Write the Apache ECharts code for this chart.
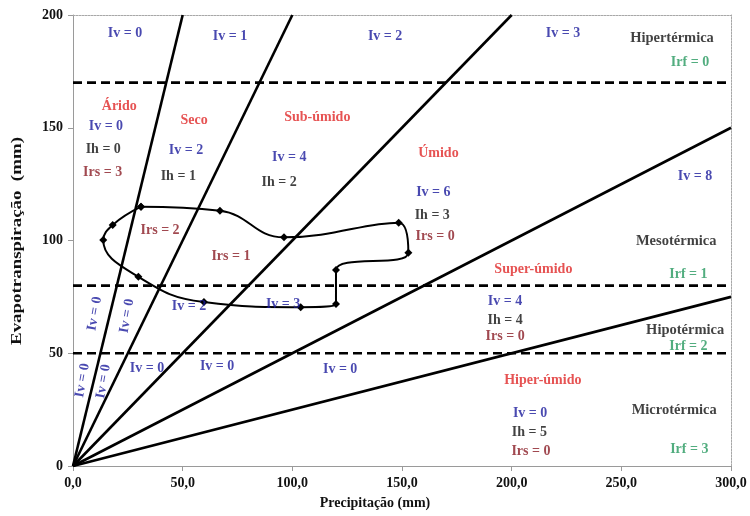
<!DOCTYPE html>
<html>
<head>
<meta charset="utf-8">
<script src="https://cdn.jsdelivr.net/npm/echarts@6/dist/echarts.min.js"></script>
<style>
  html, body { margin: 0; padding: 0; background: #fff; }
  #chart { width: 750px; height: 516px; }
</style>
</head>
<body>
<div id="chart"></div>
<script>
// Monthly water-balance path: precipitation vs evapotranspiration (mm)
const precipitation = [31.0, 67.0, 96.2, 148.5, 152.9, 119.9, 119.9, 103.8, 59.7, 29.8, 13.8, 18.1];
const evapotranspiration = [115.0, 113.2, 101.4, 107.9, 94.6, 86.9, 71.8, 70.4, 72.7, 83.9, 100.2, 106.9];

// Humidity class boundaries, as evapotranspiration / precipitation ratios
const humidityRatios = [4, 2, 1, 0.5, 0.25];

// Thermal class boundaries (mm of evapotranspiration)
const thermalLimits = [170, 80, 50];

// Axis ranges and ticks
const xTickValues = [0, 50, 100, 150, 200, 250, 300];
const yTickValues = [0, 50, 100, 150, 200];

// Class annotations: text, kind, anchor (mm, mm), optional rotation
const annotations = [
  ['Iv = 0', 'iv', 23.7, 192.0], ['Iv = 1', 'iv', 71.6, 190.7], ['Iv = 2', 'iv', 142.3, 190.7],
  ['Iv = 3', 'iv', 223.4, 192.0], ['Hipertérmica', 'th', 273.1, 189.8], ['Irf = 0', 'irf', 281.3, 179.2],
  ['Árido', 'cl', 21.1, 159.6], ['Iv = 0', 'iv', 15.0, 150.4], ['Ih = 0', 'ih', 13.8, 140.2], ['Irs = 3', 'irs', 13.5, 130.1],
  ['Seco', 'cl', 55.2, 153.2], ['Iv = 2', 'iv', 51.5, 140.1], ['Ih = 1', 'ih', 48.0, 128.3],
  ['Sub-úmido', 'cl', 111.4, 154.6], ['Iv = 4', 'iv', 98.6, 136.9], ['Ih = 2', 'ih', 94.0, 125.6],
  ['Úmido', 'cl', 166.6, 138.7], ['Iv = 6', 'iv', 164.3, 121.2], ['Ih = 3', 'ih', 163.8, 111.3], ['Irs = 0', 'irs', 165.1, 101.7],
  ['Iv = 8', 'iv', 283.6, 128.3], ['Mesotérmica', 'th', 275.0, 99.8], ['Irf = 1', 'irf', 280.6, 85.0],
  ['Super-úmido', 'cl', 209.9, 87.2], ['Irs = 2', 'irs', 39.7, 104.7], ['Irs = 1', 'irs', 72.0, 93.1],
  ['Iv = 2', 'iv', 52.9, 71.0], ['Iv = 3', 'iv', 95.8, 71.8],
  ['Iv = 4', 'iv', 197.0, 72.8], ['Ih = 4', 'ih', 197.0, 64.7], ['Irs = 0', 'irs', 197.0, 57.3],
  ['Hipotérmica', 'th', 279.1, 60.0], ['Irf = 2', 'irf', 280.6, 53.2],
  ['Iv = 0', 'iv', 33.7, 43.5], ['Iv = 0', 'iv', 65.7, 44.3], ['Iv = 0', 'iv', 121.8, 43.0],
  ['Hiper-úmido', 'cl', 214.2, 38.1], ['Iv = 0', 'iv', 208.4, 23.4], ['Ih = 5', 'ih', 208.1, 14.9], ['Irs = 0', 'irs', 208.8, 6.7],
  ['Microtérmica', 'th', 274.1, 24.8], ['Irf = 3', 'irf', 281.0, 7.4],
  ['Iv = 0', 'iv', 9.9, 67.5, 80], ['Iv = 0', 'iv', 24.6, 66.5, 80],
  ['Iv = 0', 'iv', 4.3, 38.0, 80], ['Iv = 0', 'iv', 13.9, 37.5, 80]
];

const X_MAX = 300, Y_MAX = 200;
const FONT = "'Liberation Serif', 'Times New Roman', serif";
const kindColors = {
  iv: '#1c1c9c',
  ih: '#111111',
  irs: '#8a1c24',
  cl: '#e02828',
  th: '#111111',
  irf: '#27995f'
};

const chart = echarts.init(document.getElementById('chart'), null, { renderer: 'canvas' });

// Ratio boundaries drawn from the origin until they leave the plot
const ratioSeries = humidityRatios.map(r => {
  const xEnd = Math.min(X_MAX, Y_MAX / r);
  return {
    type: 'line', silent: true, symbol: 'none', z: 3,
    lineStyle: { color: '#000', width: 2.6 },
    data: [[0, 0], [xEnd, r * xEnd]]
  };
});

const thermalSeries = thermalLimits.map(t => ({
  type: 'line', silent: true, symbol: 'none', z: 3,
  lineStyle: { color: '#000', width: 2.6, type: [9, 5] },
  data: [[0, t], [X_MAX, t]]
}));

// Closed path through the twelve months
const pathData = precipitation.map((p, i) => [p, evapotranspiration[i]]);
pathData.push(pathData[0]);

const pathSeries = {
  type: 'line', silent: true, smooth: 0.45, z: 5,
  symbol: 'diamond', symbolSize: 8, showSymbol: true,
  itemStyle: { color: '#000' },
  lineStyle: { color: '#000', width: 2 },
  data: pathData
};

const labelSeries = {
  type: 'scatter', silent: true, z: 6,
  symbol: 'circle', symbolSize: 1,
  itemStyle: { color: 'rgba(0,0,0,0)' },
  label: {
    show: true, position: 'inside',
    fontFamily: FONT, fontWeight: 'bold', fontSize: 14,
    formatter: p => p.data.name
  },
  data: annotations.map(a => ({
    name: a[0],
    value: [a[2], a[3]],
    label: {
      color: kindColors[a[1]],
      fontSize: a[1] === 'th' ? 14.5 : 14,
      rotate: a[4] || 0
    }
  }))
};

const option = {
  animation: false,
  backgroundColor: '#fff',
  grid: { left: 73, right: 19, top: 15, bottom: 50, containLabel: false },
  // Axis titles, the vertical one drawn slightly elongated along its reading direction
  graphic: [{
    type: 'text', left: 'center', top: 496,
    style: {
      text: 'Precipitação (mm)', fill: '#111',
      font: "bold 14px 'Liberation Serif', 'Times New Roman', serif"
    },
    x: -24
  }, {
    type: 'text', x: 17, y: 241,
    rotation: Math.PI / 2, scaleX: 1.35,
    style: {
      text: 'Evapotranspiração  (mm)', fill: '#111',
      font: "bold 14px 'Liberation Serif', 'Times New Roman', serif",
      align: 'center', verticalAlign: 'middle'
    }
  }],
  xAxis: [{
    type: 'value', min: xTickValues[0], max: xTickValues[xTickValues.length - 1], interval: 50,
    axisLine: { show: true, onZero: false, lineStyle: { color: '#9a9a9a', width: 1 } },
    axisTick: { show: true, length: 5, lineStyle: { color: '#9a9a9a' } },
    axisLabel: {
      margin: 10, fontFamily: FONT, fontWeight: 'bold', fontSize: 14, color: '#111',
      formatter: v => v.toFixed(1).replace('.', ',')
    },
    splitLine: { show: false }
  }, {
    type: 'value', position: 'top', min: 0, max: X_MAX,
    axisLine: { show: true, onZero: false, lineStyle: { color: '#a8a8a8', width: 1, type: [2, 1] } },
    axisTick: { show: false }, axisLabel: { show: false }, splitLine: { show: false }
  }],
  yAxis: [{
    type: 'value', min: yTickValues[0], max: yTickValues[yTickValues.length - 1], interval: 50,
    axisLine: { show: true, onZero: false, lineStyle: { color: '#9a9a9a', width: 1 } },
    axisTick: { show: true, length: 5, lineStyle: { color: '#9a9a9a' } },
    axisLabel: { margin: 10, fontFamily: FONT, fontWeight: 'bold', fontSize: 14, color: '#111' },
    splitLine: { show: false }
  }, {
    type: 'value', position: 'right', min: 0, max: Y_MAX,
    axisLine: { show: true, onZero: false, lineStyle: { color: '#a8a8a8', width: 1, type: [2, 1] } },
    axisTick: { show: false }, axisLabel: { show: false }, splitLine: { show: false }
  }],
  series: [...ratioSeries, ...thermalSeries, pathSeries, labelSeries]
};

chart.setOption(option);
</script>
</body>
</html>
